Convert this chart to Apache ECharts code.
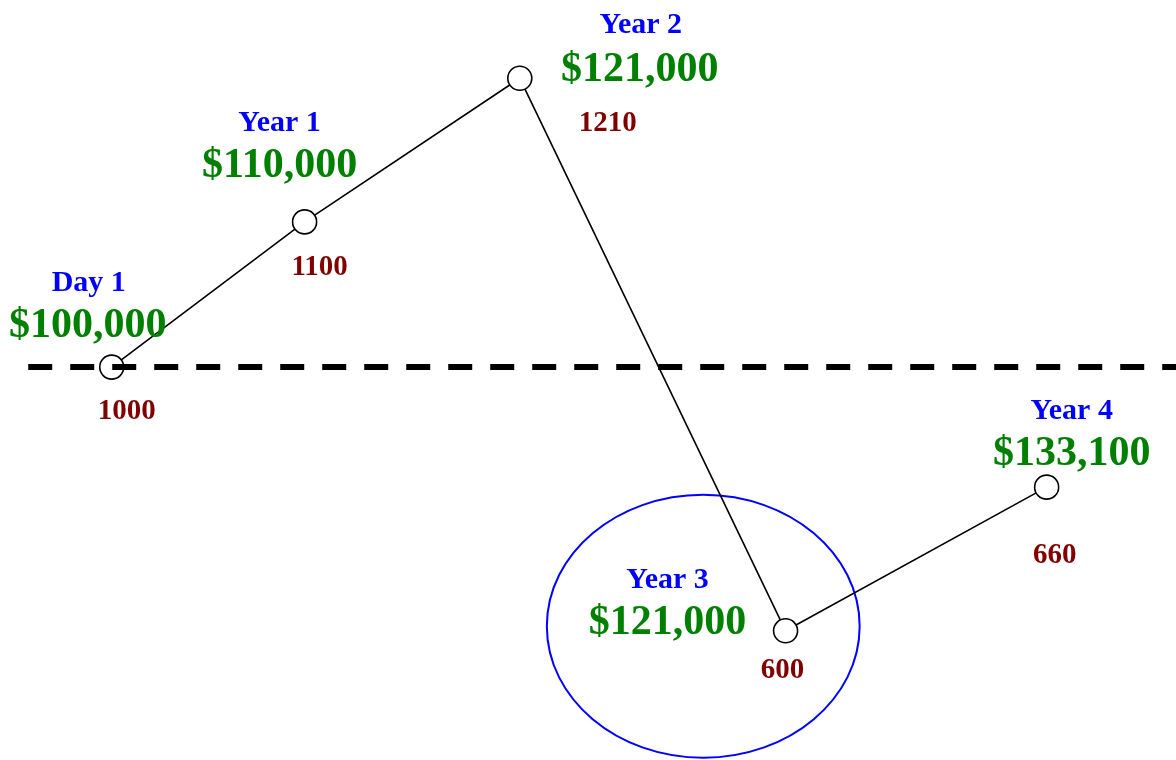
<!DOCTYPE html>
<html>
<head>
<meta charset="utf-8">
<script src="https://cdn.jsdelivr.net/npm/echarts@6/dist/echarts.min.js"></script>
<style>
    html, body { margin: 0; padding: 0; background: #fff; }
    #chart { width: 1176px; height: 760px; }
</style>
</head>
<body>
<div id="chart"></div>
<script>
// stages along the path
var periods = ['Day 1', 'Year 1', 'Year 2', 'Year 3', 'Year 4']
var amounts = ['$100,000', '$110,000', '$121,000', '$121,000', '$133,100']
var counts = [1000, 1100, 1210, 600, 660]
// schematic position of each stage (0-100 across, 0-100 up)
var across = [9.5, 25.9, 44.2, 66.8, 89.0]
var height = [51.7, 70.8, 89.7, 17.0, 35.9]
var baseline = 51.75
// ring round Year 3: centre and radii in the same units
var ring = [59.8, 17.6, 13.3, 17.3]

// label placement, offset from the point in px
var periodOffsets = [[-23, -84], [-25, -99], [121, -53], [-118, -51], [25, -76]]
var amountOffsets = [[-24, -41], [-25, -56], [120, -8], [-118, -8], [25, -33]]
var countOffsets = [[15, 44], [15, 46], [88, 45], [-3, 40], [8, 68]]

var font = '"Liberation Serif", "Times New Roman", serif'

function txt(x, y, text, size, color) {
    return {
        type: 'text',
        x: x,
        y: y,
        style: {
            text: text,
            fontFamily: font,
            fontWeight: 'bold',
            fontSize: size,
            fill: color,
            align: 'center',
            verticalAlign: 'middle'
        }
    }
}

var points = across.map(function (x, i) { return [x, height[i]] })

var chart = echarts.init(document.getElementById('chart'))
chart.setOption({
    animation: false,
    grid: { left: 0, right: 0, top: 0, bottom: 0 },
    xAxis: { type: 'value', min: 0, max: 100, show: false },
    yAxis: { type: 'value', min: 0, max: 100, show: false },
    series: [
        {
            // ellipse round Year 3
            type: 'custom',
            silent: true,
            z: 1,
            data: [ring],
            renderItem: function (params, api) {
                var c = api.coord([api.value(0), api.value(1)])
                var s = api.size([api.value(2), api.value(3)])
                return {
                    type: 'ellipse',
                    shape: { cx: c[0], cy: c[1], rx: s[0], ry: s[1] },
                    style: { fill: 'none', stroke: '#0000ff', lineWidth: 2 }
                }
            }
        },
        {
            type: 'line',
            z: 3,
            data: points,
            symbol: 'circle',
            symbolSize: 24,
            lineStyle: { color: '#000', width: 1.6 },
            itemStyle: { color: '#fff', borderColor: '#000', borderWidth: 1.6 }
        },
        {
            // dashed reference level, drawn over the markers
            type: 'scatter',
            z: 4,
            data: [],
            silent: true,
            markLine: {
                silent: true,
                symbol: 'none',
                label: { show: false },
                lineStyle: { color: '#000', width: 6, type: [24, 18] },
                data: [[{ coord: [2.4, baseline] }, { coord: [100, baseline] }]]
            }
        },
        {
            // text beside each stage
            type: 'custom',
            silent: true,
            z: 5,
            data: points,
            renderItem: function (params, api) {
                var i = params.dataIndex
                var c = api.coord([api.value(0), api.value(1)])
                return {
                    type: 'group',
                    children: [
                        txt(c[0] + periodOffsets[i][0], c[1] + periodOffsets[i][1], periods[i], 30, '#0000ff'),
                        txt(c[0] + amountOffsets[i][0], c[1] + amountOffsets[i][1], amounts[i], 42, '#008000'),
                        txt(c[0] + countOffsets[i][0], c[1] + countOffsets[i][1], String(counts[i]), 29, '#800000')
                    ]
                }
            }
        }
    ]
})
</script>
</body>
</html>
